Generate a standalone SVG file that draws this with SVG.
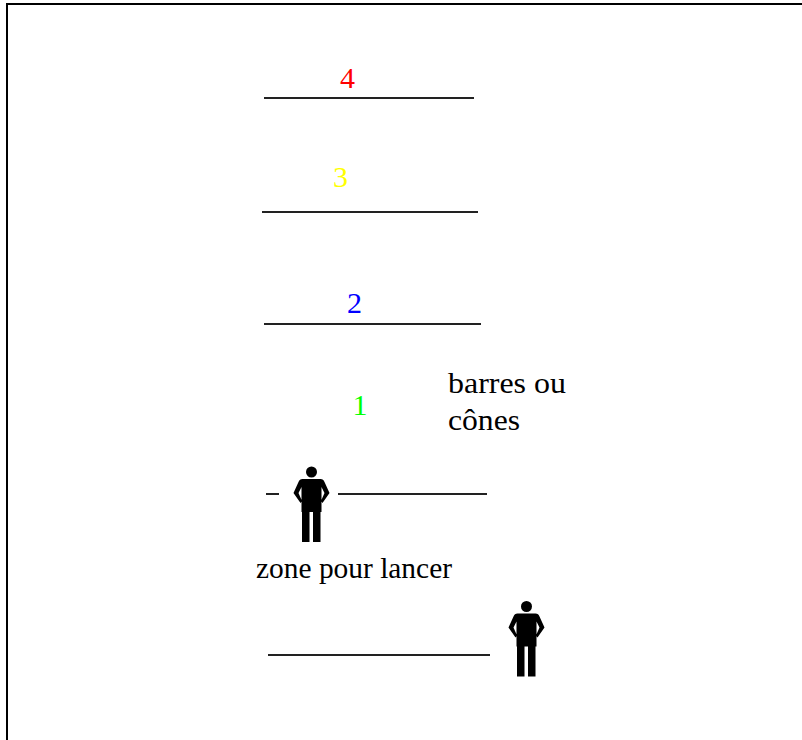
<svg xmlns="http://www.w3.org/2000/svg" xmlns:xlink="http://www.w3.org/1999/xlink" width="802" height="740" viewBox="0 0 802 740">
  <style>
    .bar { stroke: #222; stroke-width: 2; fill: none; }
    .frame { stroke: #000; stroke-width: 2; fill: none; }
    .t { font-family: 'Liberation Serif', 'DejaVu Serif', 'Times New Roman', serif; font-size: 30px; fill: #000; }
    .num { text-anchor: middle; }
  </style>
  <defs>
    <g id="person">
      <circle cx="0" cy="0" r="5.5" fill="#000"/>
      <path fill="#000" d="M -9,7 L 9,7 Q 12,7 13,10 L 18,21 L 11,31 L 9.5,29 L 13,21 L 10,15 L 10,40 L -10,40 L -10,15 L -13,21 L -9.5,29 L -11,31 L -18,21 L -13,10 Q -12,7 -9,7 Z"/>
      <rect x="-9.5" y="39" width="7.5" height="31" fill="#000"/>
      <rect x="1.5" y="39" width="7.5" height="31" fill="#000"/>
    </g>
  </defs>
  <rect width="802" height="740" fill="#fff"/>
  <path class="frame" d="M 7,741 V 4 H 803"/>

  <g id="bars">
    <line class="bar" x1="264" y1="98" x2="474" y2="98"/>
    <line class="bar" x1="262" y1="212" x2="478" y2="212"/>
    <line class="bar" x1="264" y1="324" x2="481" y2="324"/>
    <line class="bar" x1="266" y1="494" x2="279" y2="494"/>
    <line class="bar" x1="338" y1="494" x2="487" y2="494"/>
    <line class="bar" x1="268" y1="655" x2="490" y2="655"/>
  </g>

  <g id="label-4"><text class="t num" font-family="Liberation Serif, serif" x="347.5" y="88" style="fill:#ff0000">4</text></g>
  <g id="label-3"><text class="t num" font-family="Liberation Serif, serif" x="340.5" y="187" style="fill:#ffff00">3</text></g>
  <g id="label-2"><text class="t num" font-family="Liberation Serif, serif" x="354.5" y="313" style="fill:#0000ff">2</text></g>
  <g id="label-1"><text class="t num" font-family="Liberation Serif, serif" x="360" y="415" style="fill:#00ff00">1</text></g>

  <g id="label-barres">
    <text class="t" font-family="Liberation Serif, serif" x="448" y="393" textLength="118" lengthAdjust="spacingAndGlyphs">barres ou</text>
    <text class="t" font-family="Liberation Serif, serif" x="448" y="430" textLength="72" lengthAdjust="spacingAndGlyphs">cônes</text>
  </g>

  <g id="label-zone"><text class="t" font-family="Liberation Serif, serif" x="256" y="578" textLength="196" lengthAdjust="spacingAndGlyphs">zone pour lancer</text></g>

  <g id="person-thrower"><use xlink:href="#person" href="#person" x="311.5" y="472"/></g>
  <g id="person-receiver"><use xlink:href="#person" href="#person" x="526.5" y="606.5"/></g>
</svg>
